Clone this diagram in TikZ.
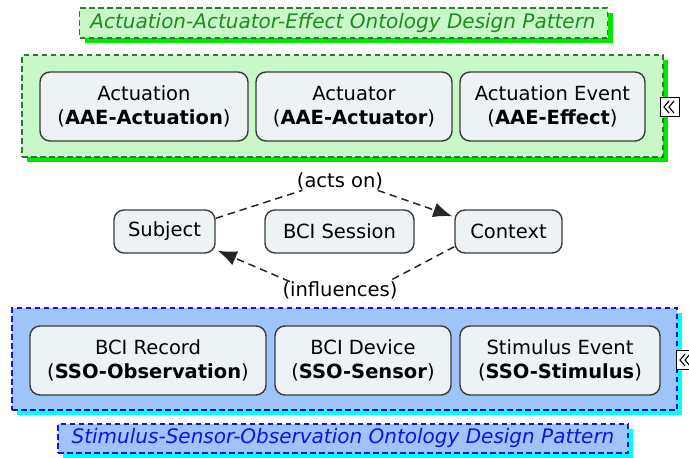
\documentclass[tikz,border=0pt]{standalone}
\usepackage{fontspec}
\setmainfont{DejaVu Sans}
\usetikzlibrary{arrows.meta,shadows}

\definecolor{aaefill}{HTML}{C8F8C8}
\definecolor{aaeline}{HTML}{2F7A2F}
\definecolor{aaeshadow}{HTML}{00E600}
\definecolor{aaetext}{HTML}{1C8C1C}
\definecolor{ssofill}{HTML}{9EC4FA}
\definecolor{ssoline}{HTML}{1414E0}
\definecolor{ssoshadow}{HTML}{00FFFF}
\definecolor{ssotext}{HTML}{1010E8}
\definecolor{conceptfill}{HTML}{EDF2F5}
\definecolor{conceptline}{HTML}{3A3A3A}

\tikzset{
  txt/.style={font=\fontsize{19.5}{24}\selectfont, align=center, inner sep=0pt},
  titletxt/.style={txt, font=\fontsize{20}{24}\selectfont\itshape},
  concept/.style={txt, draw=conceptline, line width=1.4pt, fill=conceptfill,
    rounded corners=10pt},
  aaegroup/.style={draw=aaeline, line width=1.1pt, dash pattern=on 5.5pt off 3.5pt,
    fill=aaefill, inner sep=0pt,
    general shadow={fill=aaeshadow, shadow xshift=5pt, shadow yshift=-5pt}},
  ssogroup/.style={draw=ssoline, line width=1.1pt, dash pattern=on 5.5pt off 3.5pt,
    fill=ssofill, inner sep=0pt,
    general shadow={fill=ssoshadow, shadow xshift=5pt, shadow yshift=-5pt}},
  iconbox/.style={draw=black, line width=1pt, fill=white, minimum width=19pt,
    minimum height=19pt, inner sep=0pt},
  relation/.style={draw=black!85, line width=1.5pt, dash pattern=on 7.5pt off 5pt},
  tip/.style={-{Latex[length=19pt,width=15pt]}},
  rellabel/.style={txt, inner sep=0.5pt}
}

\newcommand{\chevrons}[1]{%
  \draw[line width=1.1pt] ([xshift=-1pt,yshift=6pt]#1.center) -- ([xshift=-6pt]#1.center) -- ([xshift=-1pt,yshift=-6pt]#1.center);
  \draw[line width=1.1pt] ([xshift=4pt,yshift=6pt]#1.center) -- ([xshift=-1pt]#1.center) -- ([xshift=4pt,yshift=-6pt]#1.center);
}

\begin{document}
\begin{tikzpicture}[x=1pt,y=-1pt]
\useasboundingbox (0,0) rectangle (689,458);

% Actuation-Actuator-Effect pattern
\node[aaegroup, minimum width=528pt, minimum height=30pt] (aaetitle) at (343.5,23) {};
\node[titletxt, text=aaetext] (aaename) at (343,22.5)
  {Actuation-Actuator-Effect Ontology Design Pattern};
\node[aaegroup, minimum width=641pt, minimum height=102pt] (aae) at (342.5,106) {};

\node[concept, minimum width=208pt, minimum height=69pt] (actuation) at (144,106.5)
  {Actuation\\(\textbf{AAE-Actuation})};
\node[concept, minimum width=196pt, minimum height=69pt] (actuator) at (354,106.5)
  {Actuator\\(\textbf{AAE-Actuator})};
\node[concept, minimum width=185pt, minimum height=69pt] (effect) at (552.5,106.5)
  {Actuation Event\\(\textbf{AAE-Effect})};
\node[iconbox] (aaeicon) at (670,107) {};
\chevrons{aaeicon}

% BCI session and its participants
\node[concept, minimum width=101pt, minimum height=43pt] (subject) at (164.5,231.5) {Subject};
\node[concept, minimum width=149pt, minimum height=43pt] (session) at (339.5,231.5) {BCI Session};
\node[concept, minimum width=107pt, minimum height=43pt] (context) at (508.5,231.5) {Context};

\node[rellabel] (actson) at (340,181) {(acts on)};
\node[rellabel] (influences) at (340,290) {(influences)};

\coordinate (s1) at ([yshift=-9pt]subject.north east);
\draw[relation] (s1) -- ([xshift=6pt]actson.south west);
\draw[relation, tip] ([xshift=-6pt]actson.south east) -- ([xshift=-2pt,yshift=-7pt]context.north west);
\draw[relation] ([yshift=7pt]context.south west) -- ([xshift=-10pt,yshift=-1pt]influences.north east);
\draw[relation, tip] ([xshift=8pt,yshift=-1pt]influences.north west) -- ([xshift=2pt,yshift=3pt]subject.south east);

% Stimulus-Sensor-Observation pattern
\node[ssogroup, minimum width=665pt, minimum height=102pt] (sso) at (344.5,359) {};
\node[concept, minimum width=236pt, minimum height=69pt] (record) at (148,360.5)
  {BCI Record\\(\textbf{SSO-Observation})};
\node[concept, minimum width=176pt, minimum height=69pt] (device) at (363,360.5)
  {BCI Device\\(\textbf{SSO-Sensor})};
\node[concept, minimum width=200pt, minimum height=69pt] (stimulus) at (560,360.5)
  {Stimulus Event\\(\textbf{SSO-Stimulus})};
\node[iconbox] (ssoicon) at (686,360) {};
\chevrons{ssoicon}

\node[ssogroup, minimum width=570pt, minimum height=29pt] (ssotitle) at (343,438.5) {};
\node[titletxt, text=ssotext] (ssoname) at (343,438)
  {Stimulus-Sensor-Observation Ontology Design Pattern};
\end{tikzpicture}
\end{document}
